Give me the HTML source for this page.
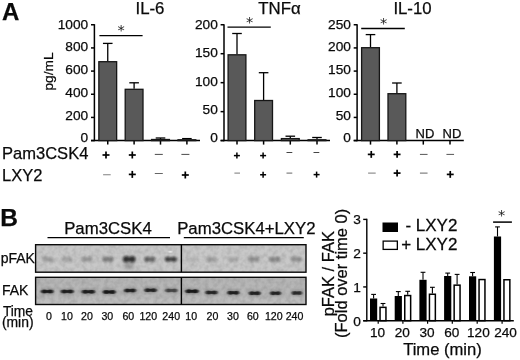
<!DOCTYPE html>
<html lang="en"><head><meta charset="utf-8"><title>Figure</title>
<style>html,body{margin:0;padding:0;background:#fff}body{width:520px;height:360px;overflow:hidden}svg{display:block}text{font-family:"Liberation Sans", Arial, Helvetica, sans-serif;fill:#0a0a0a;stroke:#0a0a0a;stroke-width:0.25px}</style></head><body>
<svg width="520" height="360" viewBox="0 0 520 360">
<defs><filter id="bl" x="-30%" y="-100%" width="160%" height="300%"><feGaussianBlur stdDeviation="0.9 0.7"/></filter><filter id="bl3" x="-30%" y="-100%" width="160%" height="300%"><feGaussianBlur stdDeviation="1.3 1.0"/></filter><filter id="bl2" x="-30%" y="-100%" width="160%" height="300%"><feGaussianBlur stdDeviation="1.6 1.2"/></filter><filter id="noise" x="0" y="0" width="100%" height="100%"><feTurbulence type="fractalNoise" baseFrequency="0.22" numOctaves="2" seed="4" result="n"/><feColorMatrix type="matrix" values="0 0 0 0 0  0 0 0 0 0  0 0 0 0 0  0.9 0 0 0 -0.32"/><feComposite in2="SourceGraphic" operator="in"/></filter><linearGradient id="fg" x1="0" y1="0" x2="0" y2="1"><stop offset="0" stop-color="#aaa" stop-opacity="0.35"/><stop offset="0.55" stop-color="#bbb" stop-opacity="0"/><stop offset="1" stop-color="#d0d0d0" stop-opacity="0.5"/></linearGradient></defs>
<rect width="520" height="360" fill="#fff"/>
<text x="1.90" y="20.30" font-size="24.00" text-anchor="start" font-weight="bold">A</text>
<line x1="94.40" y1="24.15" x2="94.40" y2="141.20" stroke="#000" stroke-width="1.50"/>
<line x1="91.00" y1="140.60" x2="200.00" y2="140.60" stroke="#000" stroke-width="1.50"/>
<line x1="91.00" y1="24.75" x2="94.40" y2="24.75" stroke="#000" stroke-width="1.50"/>
<text x="88.20" y="28.80" font-size="13.70" text-anchor="end" font-weight="normal">1000</text>
<line x1="91.00" y1="47.92" x2="94.40" y2="47.92" stroke="#000" stroke-width="1.50"/>
<text x="88.20" y="51.48" font-size="13.70" text-anchor="end" font-weight="normal">800</text>
<line x1="91.00" y1="71.09" x2="94.40" y2="71.09" stroke="#000" stroke-width="1.50"/>
<text x="88.20" y="74.16" font-size="13.70" text-anchor="end" font-weight="normal">600</text>
<line x1="91.00" y1="94.26" x2="94.40" y2="94.26" stroke="#000" stroke-width="1.50"/>
<text x="88.20" y="96.84" font-size="13.70" text-anchor="end" font-weight="normal">400</text>
<line x1="91.00" y1="117.43" x2="94.40" y2="117.43" stroke="#000" stroke-width="1.50"/>
<text x="88.20" y="119.52" font-size="13.70" text-anchor="end" font-weight="normal">200</text>
<line x1="91.00" y1="140.60" x2="94.40" y2="140.60" stroke="#000" stroke-width="1.50"/>
<text x="88.20" y="142.20" font-size="13.70" text-anchor="end" font-weight="normal">0</text>
<text x="150.00" y="13.60" font-size="16.80" text-anchor="middle" font-weight="normal">IL-6</text>
<line x1="107.75" y1="140.60" x2="107.75" y2="144.60" stroke="#000" stroke-width="1.50"/>
<line x1="134.10" y1="140.60" x2="134.10" y2="144.60" stroke="#000" stroke-width="1.50"/>
<line x1="160.50" y1="140.60" x2="160.50" y2="144.60" stroke="#000" stroke-width="1.50"/>
<line x1="186.90" y1="140.60" x2="186.90" y2="144.60" stroke="#000" stroke-width="1.50"/>
<line x1="107.75" y1="43.40" x2="107.75" y2="61.20" stroke="#000" stroke-width="1.30"/>
<line x1="102.95" y1="43.40" x2="112.55" y2="43.40" stroke="#000" stroke-width="1.30"/>
<rect x="98.85" y="61.70" width="17.80" height="78.90" fill="#595959" stroke="#161616" stroke-width="1.3"/>
<line x1="134.10" y1="82.80" x2="134.10" y2="88.80" stroke="#000" stroke-width="1.30"/>
<line x1="129.30" y1="82.80" x2="138.90" y2="82.80" stroke="#000" stroke-width="1.30"/>
<rect x="125.20" y="89.30" width="17.80" height="51.30" fill="#595959" stroke="#161616" stroke-width="1.3"/>
<line x1="160.50" y1="138.00" x2="160.50" y2="139.00" stroke="#000" stroke-width="1.30"/>
<line x1="155.70" y1="138.00" x2="165.30" y2="138.00" stroke="#000" stroke-width="1.30"/>
<rect x="151.60" y="139.50" width="17.80" height="1.10" fill="#595959" stroke="#161616" stroke-width="1.3"/>
<line x1="186.90" y1="138.60" x2="186.90" y2="139.30" stroke="#000" stroke-width="1.30"/>
<line x1="182.10" y1="138.60" x2="191.70" y2="138.60" stroke="#000" stroke-width="1.30"/>
<rect x="178.00" y="139.80" width="17.80" height="0.80" fill="#595959" stroke="#161616" stroke-width="1.3"/>
<line x1="99.40" y1="35.70" x2="142.60" y2="35.70" stroke="#000" stroke-width="1.30"/>
<text x="121.00" y="34.50" font-size="14.5" text-anchor="middle" style="font-family:'DejaVu Sans',sans-serif;stroke-width:0;fill:#222">*</text>
<line x1="224.00" y1="24.15" x2="224.00" y2="141.20" stroke="#000" stroke-width="1.50"/>
<line x1="220.60" y1="140.60" x2="330.00" y2="140.60" stroke="#000" stroke-width="1.50"/>
<line x1="220.60" y1="24.75" x2="224.00" y2="24.75" stroke="#000" stroke-width="1.50"/>
<text x="217.80" y="28.80" font-size="13.70" text-anchor="end" font-weight="normal">200</text>
<line x1="220.60" y1="53.71" x2="224.00" y2="53.71" stroke="#000" stroke-width="1.50"/>
<text x="217.80" y="57.15" font-size="13.70" text-anchor="end" font-weight="normal">150</text>
<line x1="220.60" y1="82.67" x2="224.00" y2="82.67" stroke="#000" stroke-width="1.50"/>
<text x="217.80" y="85.50" font-size="13.70" text-anchor="end" font-weight="normal">100</text>
<line x1="220.60" y1="111.64" x2="224.00" y2="111.64" stroke="#000" stroke-width="1.50"/>
<text x="217.80" y="113.85" font-size="13.70" text-anchor="end" font-weight="normal">50</text>
<line x1="220.60" y1="140.60" x2="224.00" y2="140.60" stroke="#000" stroke-width="1.50"/>
<text x="217.80" y="142.20" font-size="13.70" text-anchor="end" font-weight="normal">0</text>
<text x="279.50" y="13.60" font-size="16.80" text-anchor="middle" font-weight="normal">TNFα</text>
<line x1="237.00" y1="140.60" x2="237.00" y2="144.60" stroke="#000" stroke-width="1.50"/>
<line x1="263.60" y1="140.60" x2="263.60" y2="144.60" stroke="#000" stroke-width="1.50"/>
<line x1="290.30" y1="140.60" x2="290.30" y2="144.60" stroke="#000" stroke-width="1.50"/>
<line x1="317.00" y1="140.60" x2="317.00" y2="144.60" stroke="#000" stroke-width="1.50"/>
<line x1="237.00" y1="33.50" x2="237.00" y2="54.30" stroke="#000" stroke-width="1.30"/>
<line x1="232.20" y1="33.50" x2="241.80" y2="33.50" stroke="#000" stroke-width="1.30"/>
<rect x="228.10" y="54.80" width="17.80" height="85.80" fill="#595959" stroke="#161616" stroke-width="1.3"/>
<line x1="263.60" y1="72.70" x2="263.60" y2="100.00" stroke="#000" stroke-width="1.30"/>
<line x1="258.80" y1="72.70" x2="268.40" y2="72.70" stroke="#000" stroke-width="1.30"/>
<rect x="254.70" y="100.50" width="17.80" height="40.10" fill="#595959" stroke="#161616" stroke-width="1.3"/>
<line x1="290.30" y1="136.20" x2="290.30" y2="138.10" stroke="#000" stroke-width="1.30"/>
<line x1="285.50" y1="136.20" x2="295.10" y2="136.20" stroke="#000" stroke-width="1.30"/>
<rect x="281.40" y="138.60" width="17.80" height="2.00" fill="#595959" stroke="#161616" stroke-width="1.3"/>
<line x1="317.00" y1="137.50" x2="317.00" y2="139.30" stroke="#000" stroke-width="1.30"/>
<line x1="312.20" y1="137.50" x2="321.80" y2="137.50" stroke="#000" stroke-width="1.30"/>
<rect x="308.10" y="139.80" width="17.80" height="0.80" fill="#595959" stroke="#161616" stroke-width="1.3"/>
<line x1="227.50" y1="27.20" x2="270.80" y2="27.20" stroke="#000" stroke-width="1.30"/>
<text x="249.70" y="26.70" font-size="14.5" text-anchor="middle" style="font-family:'DejaVu Sans',sans-serif;stroke-width:0;fill:#222">*</text>
<line x1="357.10" y1="24.15" x2="357.10" y2="141.20" stroke="#000" stroke-width="1.50"/>
<line x1="353.70" y1="140.60" x2="463.80" y2="140.60" stroke="#000" stroke-width="1.50"/>
<line x1="353.70" y1="24.75" x2="357.10" y2="24.75" stroke="#000" stroke-width="1.50"/>
<text x="350.90" y="28.80" font-size="13.70" text-anchor="end" font-weight="normal">250</text>
<line x1="353.70" y1="47.92" x2="357.10" y2="47.92" stroke="#000" stroke-width="1.50"/>
<text x="350.90" y="51.48" font-size="13.70" text-anchor="end" font-weight="normal">200</text>
<line x1="353.70" y1="71.09" x2="357.10" y2="71.09" stroke="#000" stroke-width="1.50"/>
<text x="350.90" y="74.16" font-size="13.70" text-anchor="end" font-weight="normal">150</text>
<line x1="353.70" y1="94.26" x2="357.10" y2="94.26" stroke="#000" stroke-width="1.50"/>
<text x="350.90" y="96.84" font-size="13.70" text-anchor="end" font-weight="normal">100</text>
<line x1="353.70" y1="117.43" x2="357.10" y2="117.43" stroke="#000" stroke-width="1.50"/>
<text x="350.90" y="119.52" font-size="13.70" text-anchor="end" font-weight="normal">50</text>
<line x1="353.70" y1="140.60" x2="357.10" y2="140.60" stroke="#000" stroke-width="1.50"/>
<text x="350.90" y="142.20" font-size="13.70" text-anchor="end" font-weight="normal">0</text>
<text x="412.50" y="13.60" font-size="16.80" text-anchor="middle" font-weight="normal">IL-10</text>
<line x1="370.50" y1="140.60" x2="370.50" y2="144.60" stroke="#000" stroke-width="1.50"/>
<line x1="396.90" y1="140.60" x2="396.90" y2="144.60" stroke="#000" stroke-width="1.50"/>
<line x1="423.30" y1="140.60" x2="423.30" y2="144.60" stroke="#000" stroke-width="1.50"/>
<line x1="450.00" y1="140.60" x2="450.00" y2="144.60" stroke="#000" stroke-width="1.50"/>
<line x1="370.50" y1="34.60" x2="370.50" y2="47.20" stroke="#000" stroke-width="1.30"/>
<line x1="365.70" y1="34.60" x2="375.30" y2="34.60" stroke="#000" stroke-width="1.30"/>
<rect x="361.60" y="47.70" width="17.80" height="92.90" fill="#595959" stroke="#161616" stroke-width="1.3"/>
<line x1="396.90" y1="83.00" x2="396.90" y2="93.20" stroke="#000" stroke-width="1.30"/>
<line x1="392.10" y1="83.00" x2="401.70" y2="83.00" stroke="#000" stroke-width="1.30"/>
<rect x="388.00" y="93.70" width="17.80" height="46.90" fill="#595959" stroke="#161616" stroke-width="1.3"/>
<line x1="361.20" y1="28.50" x2="404.80" y2="28.50" stroke="#000" stroke-width="1.30"/>
<text x="383.50" y="27.80" font-size="14.5" text-anchor="middle" style="font-family:'DejaVu Sans',sans-serif;stroke-width:0;fill:#222">*</text>
<text x="425.00" y="138.20" font-size="13.00" text-anchor="middle" font-weight="normal">ND</text>
<text x="452.00" y="138.20" font-size="13.00" text-anchor="middle" font-weight="normal">ND</text>
<text transform="translate(52.9,71.5) rotate(-90)" font-size="13.7" text-anchor="middle">pg/mL</text>
<text x="2.00" y="159.30" font-size="16.55" text-anchor="start" font-weight="normal">Pam3CSK4</text>
<text x="2.00" y="180.60" font-size="16.50" text-anchor="start" font-weight="normal">LXY2</text>
<line x1="102.50" y1="155.00" x2="109.50" y2="155.00" stroke="#000" stroke-width="1.70"/>
<line x1="106.00" y1="151.50" x2="106.00" y2="158.50" stroke="#000" stroke-width="1.70"/>
<line x1="128.80" y1="155.00" x2="135.80" y2="155.00" stroke="#000" stroke-width="1.70"/>
<line x1="132.30" y1="151.50" x2="132.30" y2="158.50" stroke="#000" stroke-width="1.70"/>
<line x1="154.80" y1="154.40" x2="162.80" y2="154.40" stroke="#4a4a4a" stroke-width="1.00"/>
<line x1="181.40" y1="154.40" x2="189.40" y2="154.40" stroke="#4a4a4a" stroke-width="1.00"/>
<line x1="103.10" y1="174.75" x2="110.70" y2="174.75" stroke="#808080" stroke-width="1.00"/>
<line x1="128.80" y1="174.40" x2="135.80" y2="174.40" stroke="#000" stroke-width="1.70"/>
<line x1="132.30" y1="170.90" x2="132.30" y2="177.90" stroke="#000" stroke-width="1.70"/>
<line x1="154.80" y1="173.50" x2="162.80" y2="173.50" stroke="#666" stroke-width="1.00"/>
<line x1="181.80" y1="175.00" x2="188.80" y2="175.00" stroke="#000" stroke-width="1.70"/>
<line x1="185.30" y1="171.50" x2="185.30" y2="178.50" stroke="#000" stroke-width="1.70"/>
<line x1="233.90" y1="155.60" x2="239.90" y2="155.60" stroke="#000" stroke-width="1.50"/>
<line x1="236.90" y1="152.60" x2="236.90" y2="158.60" stroke="#000" stroke-width="1.50"/>
<line x1="260.10" y1="155.60" x2="266.10" y2="155.60" stroke="#000" stroke-width="1.50"/>
<line x1="263.10" y1="152.60" x2="263.10" y2="158.60" stroke="#000" stroke-width="1.50"/>
<line x1="286.50" y1="152.50" x2="292.30" y2="152.50" stroke="#444" stroke-width="1.00"/>
<line x1="313.50" y1="152.50" x2="319.30" y2="152.50" stroke="#444" stroke-width="1.00"/>
<line x1="234.40" y1="173.10" x2="240.00" y2="173.10" stroke="#777" stroke-width="1.00"/>
<line x1="260.10" y1="174.75" x2="266.10" y2="174.75" stroke="#000" stroke-width="1.50"/>
<line x1="263.10" y1="171.75" x2="263.10" y2="177.75" stroke="#000" stroke-width="1.50"/>
<line x1="286.50" y1="173.10" x2="292.30" y2="173.10" stroke="#666" stroke-width="1.00"/>
<line x1="313.60" y1="174.60" x2="319.60" y2="174.60" stroke="#000" stroke-width="1.50"/>
<line x1="316.60" y1="171.60" x2="316.60" y2="177.60" stroke="#000" stroke-width="1.50"/>
<line x1="367.80" y1="154.40" x2="374.70" y2="154.40" stroke="#000" stroke-width="1.70"/>
<line x1="371.25" y1="150.95" x2="371.25" y2="157.85" stroke="#000" stroke-width="1.70"/>
<line x1="393.65" y1="154.40" x2="400.55" y2="154.40" stroke="#000" stroke-width="1.70"/>
<line x1="397.10" y1="150.95" x2="397.10" y2="157.85" stroke="#000" stroke-width="1.70"/>
<line x1="419.95" y1="154.40" x2="427.55" y2="154.40" stroke="#555" stroke-width="1.00"/>
<line x1="446.45" y1="154.40" x2="454.05" y2="154.40" stroke="#555" stroke-width="1.00"/>
<line x1="368.10" y1="173.10" x2="375.70" y2="173.10" stroke="#777" stroke-width="1.00"/>
<line x1="393.65" y1="173.10" x2="400.55" y2="173.10" stroke="#000" stroke-width="1.70"/>
<line x1="397.10" y1="169.65" x2="397.10" y2="176.55" stroke="#000" stroke-width="1.70"/>
<line x1="419.95" y1="173.10" x2="427.55" y2="173.10" stroke="#666" stroke-width="1.00"/>
<line x1="446.80" y1="174.40" x2="453.70" y2="174.40" stroke="#000" stroke-width="1.70"/>
<line x1="450.25" y1="170.95" x2="450.25" y2="177.85" stroke="#000" stroke-width="1.70"/>
<text x="0.30" y="226.40" font-size="24.50" text-anchor="start" font-weight="bold">B</text>
<text x="64.20" y="233.80" font-size="16.75" text-anchor="start" font-weight="normal">Pam3CSK4</text>
<text x="177.20" y="233.80" font-size="16.75" text-anchor="start" font-weight="normal">Pam3CSK4+LXY2</text>
<line x1="47.50" y1="237.60" x2="170.00" y2="237.60" stroke="#000" stroke-width="1.30"/>
<line x1="183.80" y1="237.60" x2="303.80" y2="237.60" stroke="#000" stroke-width="1.30"/>
<rect x="35.60" y="244.70" width="270.40" height="27.50" fill="#c8c8c8"/>
<rect x="35.60" y="244.70" width="270.40" height="27.50" fill="#000" filter="url(#noise)" opacity="0.22"/>
<g filter="url(#bl3)" opacity="0.22" fill="#0a0a0a"><rect x="42.30" y="257.48" width="11.00" height="3.64" rx="1"/><ellipse cx="45.16" cy="259.30" rx="2.42" ry="2.86"/><ellipse cx="50.44" cy="259.30" rx="2.42" ry="2.86"/></g>
<g filter="url(#bl3)" opacity="0.18" fill="#0a0a0a"><rect x="61.00" y="257.48" width="11.00" height="3.64" rx="1"/><ellipse cx="63.86" cy="259.30" rx="2.42" ry="2.86"/><ellipse cx="69.14" cy="259.30" rx="2.42" ry="2.86"/></g>
<g filter="url(#bl3)" opacity="0.26" fill="#0a0a0a"><rect x="81.50" y="257.48" width="11.00" height="3.64" rx="1"/><ellipse cx="84.36" cy="259.30" rx="2.42" ry="2.86"/><ellipse cx="89.64" cy="259.30" rx="2.42" ry="2.86"/></g>
<g filter="url(#bl3)" opacity="0.40" fill="#0a0a0a"><rect x="102.50" y="257.48" width="11.00" height="3.64" rx="1"/><ellipse cx="105.36" cy="259.30" rx="2.42" ry="2.86"/><ellipse cx="110.64" cy="259.30" rx="2.42" ry="2.86"/></g>
<g filter="url(#bl3)" opacity="0.82" fill="#0a0a0a"><rect x="122.95" y="257.27" width="12.50" height="4.06" rx="1"/><ellipse cx="126.20" cy="259.30" rx="2.75" ry="3.19"/><ellipse cx="132.20" cy="259.30" rx="2.75" ry="3.19"/></g>
<g filter="url(#bl3)" opacity="0.52" fill="#0a0a0a"><rect x="144.20" y="257.48" width="11.00" height="3.64" rx="1"/><ellipse cx="147.06" cy="259.30" rx="2.42" ry="2.86"/><ellipse cx="152.34" cy="259.30" rx="2.42" ry="2.86"/></g>
<g filter="url(#bl3)" opacity="0.72" fill="#0a0a0a"><rect x="164.80" y="257.55" width="12.00" height="3.50" rx="1"/><ellipse cx="167.92" cy="259.30" rx="2.64" ry="2.75"/><ellipse cx="173.68" cy="259.30" rx="2.64" ry="2.75"/></g>
<g filter="url(#bl3)" opacity="0.08" fill="#0a0a0a"><rect x="186.00" y="257.48" width="11.00" height="3.64" rx="1"/><ellipse cx="188.86" cy="259.30" rx="2.42" ry="2.86"/><ellipse cx="194.14" cy="259.30" rx="2.42" ry="2.86"/></g>
<g filter="url(#bl3)" opacity="0.20" fill="#0a0a0a"><rect x="206.00" y="257.48" width="11.00" height="3.64" rx="1"/><ellipse cx="208.86" cy="259.30" rx="2.42" ry="2.86"/><ellipse cx="214.14" cy="259.30" rx="2.42" ry="2.86"/></g>
<g filter="url(#bl3)" opacity="0.16" fill="#0a0a0a"><rect x="227.50" y="257.48" width="11.00" height="3.64" rx="1"/><ellipse cx="230.36" cy="259.30" rx="2.42" ry="2.86"/><ellipse cx="235.64" cy="259.30" rx="2.42" ry="2.86"/></g>
<g filter="url(#bl3)" opacity="0.30" fill="#0a0a0a"><rect x="248.30" y="257.48" width="11.00" height="3.64" rx="1"/><ellipse cx="251.16" cy="259.30" rx="2.42" ry="2.86"/><ellipse cx="256.44" cy="259.30" rx="2.42" ry="2.86"/></g>
<g filter="url(#bl3)" opacity="0.34" fill="#0a0a0a"><rect x="269.50" y="257.48" width="11.00" height="3.64" rx="1"/><ellipse cx="272.36" cy="259.30" rx="2.42" ry="2.86"/><ellipse cx="277.64" cy="259.30" rx="2.42" ry="2.86"/></g>
<g filter="url(#bl3)" opacity="0.30" fill="#0a0a0a"><rect x="290.80" y="257.48" width="11.00" height="3.64" rx="1"/><ellipse cx="293.66" cy="259.30" rx="2.42" ry="2.86"/><ellipse cx="298.94" cy="259.30" rx="2.42" ry="2.86"/></g>
<rect x="35.60" y="244.70" width="270.40" height="27.50" fill="none" stroke="#0a0a0a" stroke-width="1.4"/>
<line x1="181.40" y1="244.70" x2="181.40" y2="272.20" stroke="#000" stroke-width="1.40"/>
<rect x="124.5" y="262" width="9.5" height="7.5" fill="#333" opacity="0.22" filter="url(#bl2)"/>
<ellipse cx="170.3" cy="251.8" rx="1.6" ry="1.1" fill="#fff" opacity="0.8" filter="url(#bl)"/>
<rect x="35.60" y="277.30" width="270.40" height="27.20" fill="#b7b7b7"/>
<rect x="35.60" y="277.30" width="270.40" height="27.20" fill="url(#fg)"/>
<rect x="35.60" y="277.30" width="270.40" height="27.20" fill="#000" filter="url(#noise)" opacity="0.22"/>
<rect x="40.80" y="288.40" width="13.00" height="6.00" fill="#222" opacity="0.25" filter="url(#bl2)"/>
<g filter="url(#bl)" opacity="0.88" fill="#0a0a0a"><rect x="41.30" y="290.14" width="12.00" height="2.52" rx="1"/><ellipse cx="44.42" cy="291.40" rx="2.64" ry="1.98"/><ellipse cx="50.18" cy="291.40" rx="2.64" ry="1.98"/></g>
<rect x="60.55" y="288.60" width="13.50" height="6.00" fill="#222" opacity="0.24" filter="url(#bl2)"/>
<g filter="url(#bl)" opacity="0.86" fill="#0a0a0a"><rect x="61.05" y="290.34" width="12.50" height="2.52" rx="1"/><ellipse cx="64.30" cy="291.60" rx="2.75" ry="1.98"/><ellipse cx="70.30" cy="291.60" rx="2.75" ry="1.98"/></g>
<rect x="81.40" y="288.80" width="14.00" height="6.00" fill="#222" opacity="0.24" filter="url(#bl2)"/>
<g filter="url(#bl)" opacity="0.86" fill="#0a0a0a"><rect x="81.90" y="290.54" width="13.00" height="2.52" rx="1"/><ellipse cx="85.28" cy="291.80" rx="2.86" ry="1.98"/><ellipse cx="91.52" cy="291.80" rx="2.86" ry="1.98"/></g>
<rect x="102.45" y="289.00" width="13.50" height="6.00" fill="#222" opacity="0.25" filter="url(#bl2)"/>
<g filter="url(#bl)" opacity="0.90" fill="#0a0a0a"><rect x="102.95" y="290.74" width="12.50" height="2.52" rx="1"/><ellipse cx="106.20" cy="292.00" rx="2.75" ry="1.98"/><ellipse cx="112.20" cy="292.00" rx="2.75" ry="1.98"/></g>
<rect x="123.85" y="287.50" width="12.50" height="6.00" fill="#222" opacity="0.24" filter="url(#bl2)"/>
<g filter="url(#bl)" opacity="0.86" fill="#0a0a0a"><rect x="124.35" y="289.24" width="11.50" height="2.52" rx="1"/><ellipse cx="127.34" cy="290.50" rx="2.53" ry="1.98"/><ellipse cx="132.86" cy="290.50" rx="2.53" ry="1.98"/></g>
<rect x="144.10" y="287.20" width="13.00" height="6.00" fill="#222" opacity="0.23" filter="url(#bl2)"/>
<g filter="url(#bl)" opacity="0.82" fill="#0a0a0a"><rect x="144.60" y="288.94" width="12.00" height="2.52" rx="1"/><ellipse cx="147.72" cy="290.20" rx="2.64" ry="1.98"/><ellipse cx="153.48" cy="290.20" rx="2.64" ry="1.98"/></g>
<rect x="164.90" y="287.50" width="13.00" height="6.00" fill="#222" opacity="0.17" filter="url(#bl2)"/>
<g filter="url(#bl)" opacity="0.60" fill="#0a0a0a"><rect x="165.40" y="289.24" width="12.00" height="2.52" rx="1"/><ellipse cx="168.52" cy="290.50" rx="2.64" ry="1.98"/><ellipse cx="174.28" cy="290.50" rx="2.64" ry="1.98"/></g>
<rect x="185.00" y="288.20" width="14.00" height="6.00" fill="#222" opacity="0.25" filter="url(#bl2)"/>
<g filter="url(#bl)" opacity="0.90" fill="#0a0a0a"><rect x="185.50" y="289.94" width="13.00" height="2.52" rx="1"/><ellipse cx="188.88" cy="291.20" rx="2.86" ry="1.98"/><ellipse cx="195.12" cy="291.20" rx="2.86" ry="1.98"/></g>
<rect x="205.25" y="289.60" width="12.50" height="6.00" fill="#222" opacity="0.23" filter="url(#bl2)"/>
<g filter="url(#bl)" opacity="0.82" fill="#0a0a0a"><rect x="205.75" y="291.34" width="11.50" height="2.52" rx="1"/><ellipse cx="208.74" cy="292.60" rx="2.53" ry="1.98"/><ellipse cx="214.26" cy="292.60" rx="2.53" ry="1.98"/></g>
<rect x="227.05" y="289.80" width="12.50" height="6.00" fill="#222" opacity="0.24" filter="url(#bl2)"/>
<g filter="url(#bl)" opacity="0.86" fill="#0a0a0a"><rect x="227.55" y="291.54" width="11.50" height="2.52" rx="1"/><ellipse cx="230.54" cy="292.80" rx="2.53" ry="1.98"/><ellipse cx="236.06" cy="292.80" rx="2.53" ry="1.98"/></g>
<rect x="248.45" y="290.20" width="12.50" height="6.00" fill="#222" opacity="0.24" filter="url(#bl2)"/>
<g filter="url(#bl)" opacity="0.84" fill="#0a0a0a"><rect x="248.95" y="291.94" width="11.50" height="2.52" rx="1"/><ellipse cx="251.94" cy="293.20" rx="2.53" ry="1.98"/><ellipse cx="257.46" cy="293.20" rx="2.53" ry="1.98"/></g>
<rect x="269.75" y="290.20" width="11.50" height="6.00" fill="#222" opacity="0.23" filter="url(#bl2)"/>
<g filter="url(#bl)" opacity="0.82" fill="#0a0a0a"><rect x="270.25" y="291.94" width="10.50" height="2.52" rx="1"/><ellipse cx="272.98" cy="293.20" rx="2.31" ry="1.98"/><ellipse cx="278.02" cy="293.20" rx="2.31" ry="1.98"/></g>
<rect x="291.40" y="290.00" width="11.00" height="6.00" fill="#222" opacity="0.22" filter="url(#bl2)"/>
<g filter="url(#bl)" opacity="0.78" fill="#0a0a0a"><rect x="291.90" y="291.74" width="10.00" height="2.52" rx="1"/><ellipse cx="294.50" cy="293.00" rx="2.20" ry="1.98"/><ellipse cx="299.30" cy="293.00" rx="2.20" ry="1.98"/></g>
<rect x="35.60" y="277.30" width="270.40" height="27.20" fill="none" stroke="#0a0a0a" stroke-width="1.4"/>
<line x1="181.40" y1="277.30" x2="181.40" y2="304.50" stroke="#000" stroke-width="1.40"/>
<text x="0.70" y="262.50" font-size="14.00" text-anchor="start" font-weight="normal">pFAK</text>
<text x="1.90" y="294.80" font-size="14.00" text-anchor="start" font-weight="normal">FAK</text>
<text x="2.90" y="316.30" font-size="13.80" text-anchor="start" font-weight="normal">Time</text>
<text x="1.90" y="326.60" font-size="13.90" text-anchor="start" font-weight="normal">(min)</text>
<text x="49.00" y="320.30" font-size="10.60" text-anchor="middle" font-weight="normal">0</text>
<text x="66.90" y="320.30" font-size="10.60" text-anchor="middle" font-weight="normal">10</text>
<text x="86.90" y="320.30" font-size="10.60" text-anchor="middle" font-weight="normal">20</text>
<text x="107.30" y="320.30" font-size="10.60" text-anchor="middle" font-weight="normal">30</text>
<text x="128.30" y="320.30" font-size="10.60" text-anchor="middle" font-weight="normal">60</text>
<text x="148.30" y="320.30" font-size="10.60" text-anchor="middle" font-weight="normal">120</text>
<text x="171.20" y="320.30" font-size="10.60" text-anchor="middle" font-weight="normal">240</text>
<text x="191.20" y="320.30" font-size="10.60" text-anchor="middle" font-weight="normal">10</text>
<text x="212.50" y="320.30" font-size="10.60" text-anchor="middle" font-weight="normal">20</text>
<text x="233.00" y="320.30" font-size="10.60" text-anchor="middle" font-weight="normal">30</text>
<text x="252.80" y="320.30" font-size="10.60" text-anchor="middle" font-weight="normal">60</text>
<text x="273.80" y="320.30" font-size="10.60" text-anchor="middle" font-weight="normal">120</text>
<text x="294.50" y="320.30" font-size="10.60" text-anchor="middle" font-weight="normal">240</text>
<line x1="366.80" y1="218.80" x2="366.80" y2="321.30" stroke="#000" stroke-width="1.40"/>
<line x1="363.20" y1="320.70" x2="513.80" y2="320.70" stroke="#000" stroke-width="1.40"/>
<line x1="363.20" y1="320.70" x2="366.80" y2="320.70" stroke="#000" stroke-width="1.40"/>
<text x="360.90" y="326.20" font-size="13.70" text-anchor="end" font-weight="normal">0</text>
<line x1="363.20" y1="286.93" x2="366.80" y2="286.93" stroke="#000" stroke-width="1.40"/>
<text x="360.90" y="291.83" font-size="13.70" text-anchor="end" font-weight="normal">1</text>
<line x1="363.20" y1="253.17" x2="366.80" y2="253.17" stroke="#000" stroke-width="1.40"/>
<text x="360.90" y="258.07" font-size="13.70" text-anchor="end" font-weight="normal">2</text>
<line x1="363.20" y1="219.40" x2="366.80" y2="219.40" stroke="#000" stroke-width="1.40"/>
<text x="360.90" y="224.30" font-size="13.70" text-anchor="end" font-weight="normal">3</text>
<text transform="translate(333.8,273.7) rotate(-90)" font-size="16.5" text-anchor="middle">pFAK / FAK</text>
<text transform="translate(347.0,273.4) rotate(-90)" font-size="16.5" text-anchor="middle">(Fold over time 0)</text>
<line x1="373.60" y1="294.40" x2="373.60" y2="298.50" stroke="#000" stroke-width="1.10"/>
<line x1="371.20" y1="294.40" x2="376.00" y2="294.40" stroke="#000" stroke-width="1.10"/>
<rect x="370.00" y="298.50" width="7.2" height="22.20" fill="#000"/>
<line x1="383.00" y1="303.50" x2="383.00" y2="306.60" stroke="#000" stroke-width="1.10"/>
<line x1="380.60" y1="303.50" x2="385.40" y2="303.50" stroke="#000" stroke-width="1.10"/>
<rect x="380.05" y="307.35" width="5.9" height="13.35" fill="#fff" stroke="#000" stroke-width="1.5"/>
<line x1="378.20" y1="320.70" x2="378.20" y2="323.70" stroke="#000" stroke-width="1.20"/>
<text x="377.60" y="336.90" font-size="13.60" text-anchor="middle" font-weight="normal">10</text>
<line x1="398.30" y1="291.60" x2="398.30" y2="296.00" stroke="#000" stroke-width="1.10"/>
<line x1="395.90" y1="291.60" x2="400.70" y2="291.60" stroke="#000" stroke-width="1.10"/>
<rect x="394.70" y="296.00" width="7.2" height="24.70" fill="#000"/>
<line x1="407.70" y1="291.30" x2="407.70" y2="294.80" stroke="#000" stroke-width="1.10"/>
<line x1="405.30" y1="291.30" x2="410.10" y2="291.30" stroke="#000" stroke-width="1.10"/>
<rect x="404.75" y="295.55" width="5.9" height="25.15" fill="#fff" stroke="#000" stroke-width="1.5"/>
<line x1="402.90" y1="320.70" x2="402.90" y2="323.70" stroke="#000" stroke-width="1.20"/>
<text x="402.30" y="336.90" font-size="13.60" text-anchor="middle" font-weight="normal">20</text>
<line x1="423.00" y1="272.30" x2="423.00" y2="279.80" stroke="#000" stroke-width="1.10"/>
<line x1="420.60" y1="272.30" x2="425.40" y2="272.30" stroke="#000" stroke-width="1.10"/>
<rect x="419.40" y="279.80" width="7.2" height="40.90" fill="#000"/>
<line x1="432.40" y1="287.30" x2="432.40" y2="293.50" stroke="#000" stroke-width="1.10"/>
<line x1="430.00" y1="287.30" x2="434.80" y2="287.30" stroke="#000" stroke-width="1.10"/>
<rect x="429.45" y="294.25" width="5.9" height="26.45" fill="#fff" stroke="#000" stroke-width="1.5"/>
<line x1="427.60" y1="320.70" x2="427.60" y2="323.70" stroke="#000" stroke-width="1.20"/>
<text x="427.00" y="336.90" font-size="13.60" text-anchor="middle" font-weight="normal">30</text>
<line x1="447.70" y1="273.10" x2="447.70" y2="276.00" stroke="#000" stroke-width="1.10"/>
<line x1="445.30" y1="273.10" x2="450.10" y2="273.10" stroke="#000" stroke-width="1.10"/>
<rect x="444.10" y="276.00" width="7.2" height="44.70" fill="#000"/>
<line x1="457.10" y1="274.40" x2="457.10" y2="284.40" stroke="#000" stroke-width="1.10"/>
<line x1="454.70" y1="274.40" x2="459.50" y2="274.40" stroke="#000" stroke-width="1.10"/>
<rect x="454.15" y="285.15" width="5.9" height="35.55" fill="#fff" stroke="#000" stroke-width="1.5"/>
<line x1="452.30" y1="320.70" x2="452.30" y2="323.70" stroke="#000" stroke-width="1.20"/>
<text x="451.70" y="336.90" font-size="13.60" text-anchor="middle" font-weight="normal">60</text>
<line x1="472.60" y1="272.50" x2="472.60" y2="276.30" stroke="#000" stroke-width="1.10"/>
<line x1="470.20" y1="272.50" x2="475.00" y2="272.50" stroke="#000" stroke-width="1.10"/>
<rect x="469.00" y="276.30" width="7.2" height="44.40" fill="#000"/>
<rect x="479.05" y="279.55" width="5.9" height="41.15" fill="#fff" stroke="#000" stroke-width="1.5"/>
<line x1="477.20" y1="320.70" x2="477.20" y2="323.70" stroke="#000" stroke-width="1.20"/>
<text x="478.40" y="336.90" font-size="13.60" text-anchor="middle" font-weight="normal">120</text>
<line x1="497.50" y1="226.90" x2="497.50" y2="236.50" stroke="#000" stroke-width="1.10"/>
<line x1="495.10" y1="226.90" x2="499.90" y2="226.90" stroke="#000" stroke-width="1.10"/>
<rect x="493.90" y="236.50" width="7.2" height="84.20" fill="#000"/>
<rect x="503.95" y="279.75" width="5.9" height="40.95" fill="#fff" stroke="#000" stroke-width="1.5"/>
<line x1="502.10" y1="320.70" x2="502.10" y2="323.70" stroke="#000" stroke-width="1.20"/>
<text x="505.50" y="336.90" font-size="13.60" text-anchor="middle" font-weight="normal">240</text>
<text x="442.50" y="354.60" font-size="16.60" text-anchor="middle" font-weight="normal">Time (min)</text>
<rect x="382.5" y="222.5" width="15.5" height="9.5" fill="#000"/>
<rect x="383.15" y="241.1" width="14.2" height="8.3" fill="#fff" stroke="#000" stroke-width="1.3"/>
<text transform="translate(457.4,230.5) scale(1.05,1)" font-size="16.2" text-anchor="end">- LXY2</text>
<text transform="translate(457.4,250.0) scale(1.05,1)" font-size="16.2" text-anchor="end">+ LXY2</text>
<line x1="493.10" y1="222.10" x2="511.90" y2="222.10" stroke="#000" stroke-width="1.50"/>
<text x="501.60" y="220.40" font-size="14.5" text-anchor="middle" style="font-family:'DejaVu Sans',sans-serif;stroke-width:0;fill:#222">*</text>
</svg></body></html>
